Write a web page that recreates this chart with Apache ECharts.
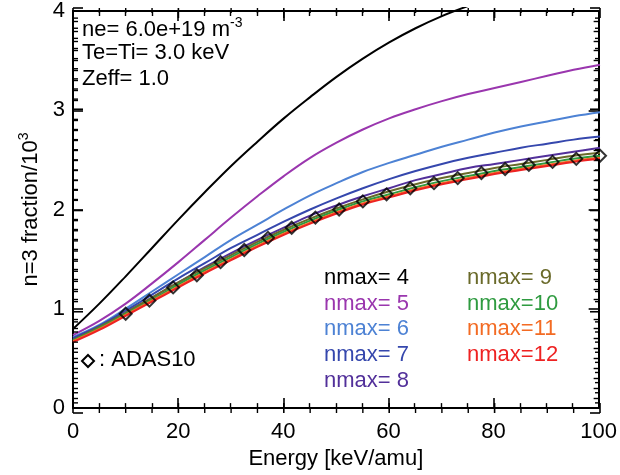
<!DOCTYPE html>
<html>
<head>
<meta charset="utf-8">
<script src="https://cdn.jsdelivr.net/npm/echarts@6/dist/echarts.min.js"></script>
<style>
html,body{margin:0;padding:0;background:#fff;}
#chart{width:620px;height:475px;}
</style>
</head>
<body>
<div id="chart"></div>
<script>
// ---- data ----
const energy = [0,5,10,15,20,25,30,35,40,45,50,55,60,65,70,75,80,85,90,95,100];
const nmax4  = [0.83,1.08,1.35,1.63,1.91,2.18,2.44,2.68,2.91,3.12,3.32,3.50,3.66,3.80,3.92,4.02,4.11,4.19,4.26,4.32,4.37];
const nmax5  = [0.77,0.91,1.08,1.28,1.49,1.71,1.93,2.14,2.34,2.52,2.67,2.80,2.91,3.00,3.08,3.15,3.21,3.27,3.33,3.39,3.44];
const nmax6  = [0.75,0.87,1.03,1.20,1.37,1.54,1.71,1.86,2.01,2.15,2.27,2.38,2.47,2.55,2.63,2.70,2.77,2.83,2.88,2.93,2.97];
const nmax7  = [0.74,0.86,1.01,1.17,1.33,1.48,1.63,1.76,1.89,2.01,2.12,2.22,2.31,2.39,2.46,2.52,2.57,2.62,2.66,2.70,2.73];
const nmax8  = [0.73,0.85,0.99,1.14,1.29,1.44,1.58,1.71,1.83,1.95,2.05,2.14,2.22,2.30,2.36,2.42,2.46,2.50,2.54,2.58,2.62];
const nmax9  = [0.72,0.85,0.99,1.14,1.29,1.43,1.56,1.69,1.81,1.92,2.02,2.11,2.19,2.26,2.32,2.37,2.42,2.46,2.50,2.54,2.57];
const nmax10 = [0.72,0.84,0.98,1.12,1.27,1.41,1.54,1.67,1.79,1.90,2.00,2.09,2.16,2.23,2.29,2.34,2.39,2.43,2.47,2.51,2.54];
const nmax11 = [0.71,0.83,0.97,1.11,1.25,1.39,1.52,1.65,1.77,1.88,1.98,2.07,2.14,2.21,2.27,2.32,2.37,2.41,2.45,2.49,2.52];
const nmax12 = [0.70,0.82,0.96,1.10,1.24,1.38,1.51,1.64,1.76,1.87,1.97,2.06,2.13,2.20,2.26,2.31,2.36,2.40,2.44,2.48,2.51];
const adasEnergy = [10,14.5,19,23.5,28,32.5,37,41.5,46,50.5,55,59.5,64,68.5,73,77.5,82,86.5,91,95.5,100];
const adasValues = [0.98,1.11,1.24,1.36,1.49,1.61,1.73,1.83,1.93,2.01,2.09,2.16,2.22,2.27,2.32,2.37,2.41,2.45,2.48,2.51,2.54];
const seriesNames = ['nmax= 4','nmax= 5','nmax= 6','nmax= 7','nmax= 8','nmax= 9','nmax=10','nmax=11','nmax=12'];
const seriesValues = [nmax4,nmax5,nmax6,nmax7,nmax8,nmax9,nmax10,nmax11,nmax12];
const adasName = 'ADAS10';
const infoLines = ['ne= 6.0e+19 m{sup|-3}','Te=Ti= 3.0 keV','Zeff= 1.0'];
const xTitle = 'Energy [keV/amu]';
const yTitle = 'n=3 fraction/10{sup|3}';
// tick positions (values)
const xMajorTicks = [0,20,40,60,80,100];
const xMinorTicks = [5,10,15,25,30,35,45,50,55,65,70,75,85,90,95];
const yMajorTicks = [0,1,2,3,4];
const yMinorTicks = [0.1,0.2,0.3,0.4,0.5,0.6,0.7,0.8,0.9,1.1,1.2,1.3,1.4,1.5,1.6,1.7,1.8,1.9,
                     2.1,2.2,2.3,2.4,2.5,2.6,2.7,2.8,2.9,3.1,3.2,3.3,3.4,3.5,3.6,3.7,3.8,3.9];

// ---- styles ----
const colors = ['#000000','#9a36ae','#4d82d4','#3547ad','#52309a','#6a6a2a','#2f9b40','#f36b23','#ee2222'];
const FONT = '"Liberation Sans", Arial, Helvetica, sans-serif';
const FS = 22;
const GRID = {left:73, right:20, top:8, bottom:62, containLabel:false};
const X_MIN = 0, X_MAX = 100, Y_MIN = 0, Y_MAX = 4;

const chart = echarts.init(document.getElementById('chart'), null, {renderer:'canvas'});

function makeAxis(base, minorSplit){
  return Object.assign({
    axisLine:{show:true, onZero:false, lineStyle:{color:'#000', width:2}},
    axisTick:{show:true, inside:true, length:10, lineStyle:{color:'#000', width:1.6}},
    minorTick:{show:true, splitNumber:minorSplit, length:5, lineStyle:{color:'#000', width:1.4}},
    splitLine:{show:false},
    minorSplitLine:{show:false}
  }, base);
}

const xAxes = [
  {type:'value', gridIndex:0, min:X_MIN, max:X_MAX, show:false},
  makeAxis({type:'value', gridIndex:1, position:'bottom', min:X_MIN, max:X_MAX, interval:20,
    axisLabel:{show:true, color:'#000', fontSize:FS, fontFamily:FONT, margin:13},
    name:xTitle, nameLocation:'middle', nameGap:35,
    nameTextStyle:{color:'#000', fontSize:FS, fontFamily:FONT}}, 4),
  makeAxis({type:'value', gridIndex:1, position:'top', min:X_MIN, max:X_MAX, interval:20,
    axisLabel:{show:false}}, 4)
];
const yAxes = [
  {type:'value', gridIndex:0, min:Y_MIN, max:Y_MAX, show:false},
  makeAxis({type:'value', gridIndex:1, position:'left', min:Y_MIN, max:Y_MAX, interval:1,
    axisLabel:{show:true, color:'#000', fontSize:FS, fontFamily:FONT, margin:8},
    name:yTitle, nameLocation:'middle', nameGap:23, nameRotate:90,
    nameTextStyle:{color:'#000', fontSize:FS, fontFamily:FONT,
      rich:{sup:{fontSize:14, fontFamily:FONT, color:'#000', padding:[0,0,14,0]}}}}, 10),
  makeAxis({type:'value', gridIndex:1, position:'right', min:Y_MIN, max:Y_MAX, interval:1,
    axisLabel:{show:false}}, 10)
];

const series = seriesValues.map((vals,i)=>({
  name: seriesNames[i],
  type:'line',
  xAxisIndex:0, yAxisIndex:0,
  data: energy.map((e,j)=>[e, vals[j]]),
  smooth:0.4,
  showSymbol:false,
  symbol:'none',
  lineStyle:{color:colors[i], width:2},
  itemStyle:{color:colors[i]},
  clip:true,
  z:2+i
}));
series.push({
  name: adasName,
  type:'scatter',
  xAxisIndex:0, yAxisIndex:0,
  data: adasEnergy.map((e,j)=>[e, adasValues[j]]),
  symbol:'diamond',
  symbolSize:[12,12],
  itemStyle:{color:'rgba(0,0,0,0)', borderColor:'#000', borderWidth:2},
  z:20
});

// tick marks on all four sides of the box, placed through the axis scales
function tickSeries(values, isX, len, width){
  return {
    type:'custom', xAxisIndex:0, yAxisIndex:0, silent:true, clip:false, z:40,
    data: values.map(v => isX ? [v, Y_MIN] : [X_MIN, v]),
    renderItem: function(params, api){
      const v = isX ? api.value(0) : api.value(1);
      const st = {stroke:'#000', lineWidth:width};
      if(isX){
        const b = api.coord([v, Y_MIN]); const t = api.coord([v, Y_MAX]);
        return {type:'group', children:[
          {type:'line', shape:{x1:b[0], y1:b[1], x2:b[0], y2:b[1]-len}, style:st},
          {type:'line', shape:{x1:t[0], y1:t[1], x2:t[0], y2:t[1]+len}, style:st}
        ]};
      } else {
        const l = api.coord([X_MIN, v]); const r = api.coord([X_MAX, v]);
        return {type:'group', children:[
          {type:'line', shape:{x1:l[0], y1:l[1], x2:l[0]+len, y2:l[1]}, style:st},
          {type:'line', shape:{x1:r[0], y1:r[1], x2:r[0]-len, y2:r[1]}, style:st}
        ]};
      }
    }
  };
}
series.push(tickSeries(xMajorTicks, true, 10, 1.6));
series.push(tickSeries(xMinorTicks, true, 5, 1.4));
series.push(tickSeries(yMajorTicks, false, 10, 1.6));
series.push(tickSeries(yMinorTicks, false, 5, 1.4));

const graphics = [];
infoLines.forEach((t,i)=>{
  graphics.push({type:'text', left:82, top:16+i*26, z:100,
    style:{text:t, fill:'#000', font:FS+'px '+FONT,
      rich:{sup:{fontSize:14, fontFamily:FONT, fill:'#000', padding:[0,0,14,0]}}}});
});
const rowY = [279,305,330,356,382];
seriesNames.forEach((n,i)=>{
  const col = i<5?0:1;
  const row = i<5?i:i-5;
  graphics.push({type:'text', left: col===0?324:467, top: rowY[row]-12, z:100,
    style:{text:n, fill:colors[i], font:FS+'px '+FONT}});
});
graphics.push({type:'text', left:99, top:349, z:100,
  style:{text:': '+adasName, fill:'#000', font:FS+'px '+FONT}});
graphics.push({type:'polygon', z:100, x:88, y:361,
  shape:{points:[[0,-6],[6,0],[0,6],[-6,0]]},
  style:{fill:'rgba(0,0,0,0)', stroke:'#000', lineWidth:2}});

chart.setOption({
  animation:false,
  grid:[Object.assign({}, GRID), Object.assign({}, GRID)],
  xAxis: xAxes,
  yAxis: yAxes,
  series: series,
  graphic: graphics
});
</script>
</body>
</html>
